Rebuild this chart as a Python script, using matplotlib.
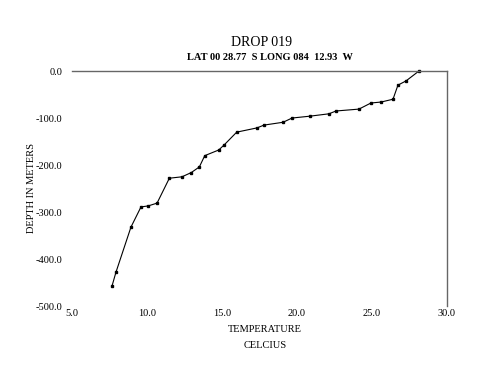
import matplotlib
matplotlib.use("Agg")
import matplotlib.pyplot as plt

# temperature (C) vs depth (m)
temp = [28.13, 27.27, 26.73, 26.4, 25.6, 24.93, 24.13, 22.6, 22.13, 20.87,
        19.67, 19.07, 17.8, 17.33, 15.98, 15.15, 14.78, 13.85, 13.49, 12.95,
        12.33, 11.49, 10.67, 10.07, 9.6, 8.93, 7.93, 7.67]
depth = [0, -21, -30, -60, -66, -68, -81, -85, -91, -96,
         -100, -109, -115, -121, -130, -157, -168, -180, -204, -216,
         -225, -228, -281, -287, -289, -332, -428, -457]

xticks = [5, 10, 15, 20, 25, 30]
yticks = [0, -100, -200, -300, -400, -500]

plt.rcParams['font.family'] = ['Liberation Serif', 'DejaVu Serif']

fig = plt.figure(figsize=(5, 3.86), dpi=100)
ax = fig.add_axes([0.144, 0.207, 0.75, 0.609])

ax.plot(temp, depth, color='black', lw=0.8, marker='s', ms=2.0,
        clip_on=False)

ax.set_xlim(5, 30)
ax.set_ylim(-500, 0)
ax.set_xticks(xticks)
ax.set_xticklabels(['%.1f' % v for v in xticks])
ax.set_yticks(yticks)
ax.set_yticklabels(['%.1f' % v for v in yticks])
ax.tick_params(length=0, labelsize=7.5)
ax.tick_params(axis='y', pad=7)
ax.tick_params(axis='x', pad=2)

for side in ['left', 'bottom']:
    ax.spines[side].set_visible(False)
for side in ['top', 'right']:
    ax.spines[side].set_color('#666666')
    ax.spines[side].set_linewidth(1.0)

fig.text(0.524, 1 - 43 / 386, 'DROP 019', ha='center', va='center', fontsize=10)
fig.text(0.54, 1 - 57 / 386, 'LAT 00 28.77  S LONG 084  12.93  W',
         ha='center', va='center', fontsize=7.5, fontweight='bold')
fig.text(0.53, 1 - 330 / 386, 'TEMPERATURE', ha='center', va='center', fontsize=7.5)
fig.text(0.53, 1 - 345 / 386, 'CELCIUS', ha='center', va='center', fontsize=7.5)
fig.text(31 / 500, 1 - 188 / 386, 'DEPTH IN METERS', ha='center', va='center',
         rotation=90, fontsize=7.5)

fig.savefig('out.png', dpi=100)
